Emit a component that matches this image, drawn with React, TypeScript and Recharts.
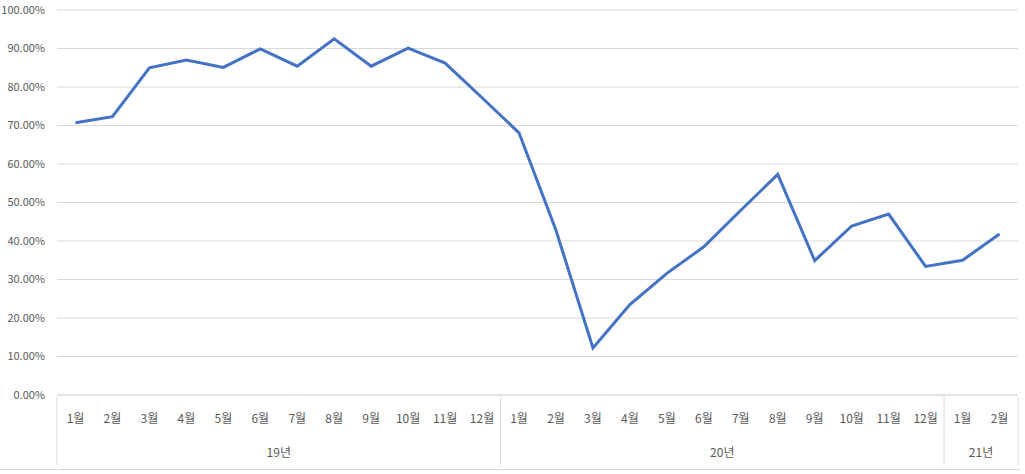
import React from 'react';
import { LineChart, Line, XAxis, YAxis, CartesianGrid } from 'recharts';

const W = 1025;
const H = 474;
const MARGIN = { top: 10, right: 7, bottom: 0, left: 0 };
const Y_AXIS_W = 57;
const X_AXIS_H = 79;

const yearLabels = ['19년', '20년', '21년'];
const monthsPerYear = [12, 12, 2];
const monthLabels = [
  '1월', '2월', '3월', '4월', '5월', '6월', '7월', '8월', '9월', '10월', '11월', '12월',
  '1월', '2월', '3월', '4월', '5월', '6월', '7월', '8월', '9월', '10월', '11월', '12월',
  '1월', '2월',
];
const rates = [
  70.7, 72.3, 85.0, 87.0, 85.1, 89.9, 85.4, 92.5, 85.4, 90.1, 86.2, 77.2,
  68.1, 42.8, 12.2, 23.5, 31.6, 38.5, 48.0, 57.3, 34.9, 43.9, 47.0, 33.4,
  35.0, 41.8,
];
const yTicks = [0, 10, 20, 30, 40, 50, 60, 70, 80, 90, 100];

const data = monthLabels.map((m, i) => ({ idx: i, month: m, rate: rates[i] }));

const groupStarts: number[] = [];
{
  let acc = 0;
  for (const n of monthsPerYear) {
    groupStarts.push(acc);
    acc += n;
  }
}

const TEXT = '#595959';
const GRID = '#d9d9d9';
const FONT = '"Noto Sans CJK KR", "Noto Sans", sans-serif';
const BAND = (W - MARGIN.left - MARGIN.right - Y_AXIS_W) / monthLabels.length;

function MonthTick(props: any) {
  const { x, y, payload } = props;
  const i: number = payload.index ?? props.index;
  const g = groupStarts.indexOf(i);
  const isLast = i === monthLabels.length - 1;
  return (
    <g>
      <text x={x} y={y + 26} textAnchor="middle" fill={TEXT} fontSize={12} fontFamily={FONT}>
        {monthLabels[i]}
      </text>
      {g >= 0 && (
        <>
          <line x1={x - BAND / 2} x2={x - BAND / 2} y1={y} y2={y + 68} stroke={GRID} strokeWidth={1} />
          <text
            x={x - BAND / 2 + (monthsPerYear[g] * BAND) / 2}
            y={y + 60}
            textAnchor="middle"
            fill={TEXT}
            fontSize={12}
            fontFamily={FONT}
          >
            {yearLabels[g]}
          </text>
        </>
      )}
      {isLast && (
        <line x1={x + BAND / 2} x2={x + BAND / 2} y1={y} y2={y + 68} stroke={GRID} strokeWidth={1} />
      )}
    </g>
  );
}

export default function App() {
  return (
    <div style={{ position: 'absolute', left: 0, top: 0, width: W, height: H, background: '#fff' }}>
      <LineChart width={W} height={H} data={data} margin={MARGIN}>
        <CartesianGrid vertical={false} stroke={GRID} />
        <XAxis
          dataKey="idx"
          type="category"
          scale="band"
          height={X_AXIS_H}
          interval={0}
          tickLine={false}
          tickSize={0}
          axisLine={{ stroke: GRID }}
          tick={<MonthTick />}
        />
        <YAxis
          width={Y_AXIS_W}
          domain={[0, 100]}
          ticks={yTicks}
          axisLine={false}
          tickLine={false}
          tickSize={0}
          tickMargin={12}
          tick={{ fill: TEXT, fontSize: 11, fontFamily: FONT }}
          tickFormatter={(v: number) => v.toFixed(2) + '%'}
        />
        <Line
          type="linear"
          dataKey="rate"
          stroke="#4472C4"
          strokeWidth={3}
          dot={false}
          isAnimationActive={false}
        />
      </LineChart>
      <div
        style={{ position: 'absolute', left: 0, top: 469, width: 1020, height: 1, background: GRID }}
      />
    </div>
  );
}
